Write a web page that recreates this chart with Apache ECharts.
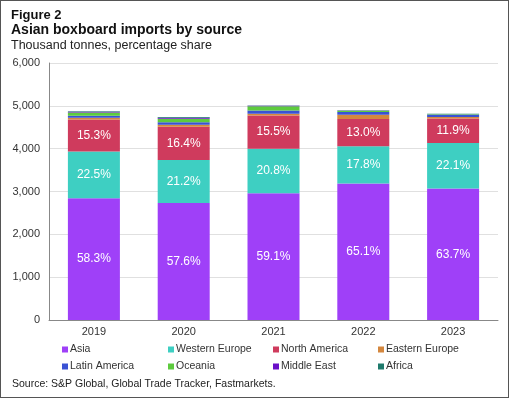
<!DOCTYPE html>
<html>
<head>
<meta charset="utf-8">
<script src="https://cdn.jsdelivr.net/npm/echarts@6/dist/echarts.min.js"></script>
<style>
  html, body { margin: 0; padding: 0; background: #fff; }
  #frame { width: 509px; height: 398px; border: 1px solid #555; box-sizing: border-box; position: absolute; left: 0; top: 0; }
  #DataChart { width: 510px; height: 399px; position: absolute; left: 0; top: 0; }
</style>
</head>
<body>
<div id="DataChart"></div>
<div id="frame"></div>
<script>
// 数据
var years = ['2019', '2020', '2021', '2022', '2023'];
var asia = [2840, 2731, 2958, 3187, 3069];
var westernEurope = [1096, 1005, 1041, 871, 1065];
var northAmerica = [745, 778, 776, 636, 573];
var easternEurope = [38, 45, 40, 95, 30];
var latinAmerica = [52, 60, 75, 65, 60];
var oceania = [75, 80, 100, 30, 10];
var middleEast = [14, 20, 10, 5, 5];
var africa = [12, 22, 5, 6, 6];
var asiaShare = ['58.3%', '57.6%', '59.1%', '65.1%', '63.7%'];
var westernEuropeShare = ['22.5%', '21.2%', '20.8%', '17.8%', '22.1%'];
var northAmericaShare = ['15.3%', '16.4%', '15.5%', '13.0%', '11.9%'];
var yTicks = [0, 1000, 2000, 3000, 4000, 5000, 6000];
var sources = ['Asia', 'Western Europe', 'North America', 'Eastern Europe',
               'Latin America', 'Oceania', 'Middle East', 'Africa'];

var myChart = echarts.init(document.getElementById('DataChart'));

function seg(name, data, color, shares) {
    var s = {
        name: name,
        type: 'bar',
        stack: 'total',
        barWidth: 52,
        data: data,
        itemStyle: { color: color },
        emphasis: { disabled: true }
    };
    if (shares) {
        s.label = {
            show: true,
            position: 'inside',
            color: '#ffffff',
            fontSize: 12,
            fontFamily: 'Liberation Sans',
            formatter: function (p) { return shares[p.dataIndex]; }
        };
    }
    return s;
}

// 图例：每项单独放置，四列两行
var legendCols = [57, 163, 268, 373];
var legendRows = [339, 356];
var legends = sources.map(function (name, i) {
    return {
        data: [name],
        left: legendCols[i % 4],
        top: legendRows[Math.floor(i / 4)],
        icon: 'rect',
        itemWidth: 6,
        itemHeight: 6,
        textStyle: { fontSize: 10.5, color: '#333', fontFamily: 'Liberation Sans', padding: [0, 0, 0, -3] }
    };
});

var option = {
    animation: false,
    textStyle: { fontFamily: 'Liberation Sans' },
    title: [
        { text: 'Figure 2', left: 6, top: 4, textStyle: { fontSize: 13, fontWeight: 'bold', color: '#111' } },
        { text: 'Asian boxboard imports by source', left: 6, top: 18, textStyle: { fontSize: 14, fontWeight: 'bold', color: '#111' } },
        { text: 'Thousand tonnes, percentage share', left: 6, top: 34, textStyle: { fontSize: 12.5, fontWeight: 'normal', color: '#222' } },
        { text: 'Source: S&P Global, Global Trade Tracker, Fastmarkets.', left: 7, top: 374, textStyle: { fontSize: 10.5, fontWeight: 'normal', color: '#222' } }
    ],
    legend: legends,
    grid: { left: 49, right: 12, top: 63, bottom: 79, containLabel: false },
    xAxis: {
        type: 'category',
        data: years,
        axisLine: { lineStyle: { color: '#888', width: 1 } },
        axisTick: { show: false },
        axisLabel: { color: '#333', fontSize: 11, margin: 6 }
    },
    yAxis: {
        type: 'value',
        min: yTicks[0],
        max: yTicks[yTicks.length - 1],
        interval: 1000,
        axisLine: { show: true, lineStyle: { color: '#888', width: 1 } },
        axisTick: { show: false },
        splitLine: { lineStyle: { color: '#e0e0e0' } },
        axisLabel: {
            color: '#333', fontSize: 11, margin: 9,
            formatter: function (v) { return v.toLocaleString('en-US'); }
        }
    },
    series: [
        seg('Asia', asia, '#9f40f8', asiaShare),
        seg('Western Europe', westernEurope, '#3ecfc2', westernEuropeShare),
        seg('North America', northAmerica, '#cf3b5d', northAmericaShare),
        seg('Eastern Europe', easternEurope, '#d4873e'),
        seg('Latin America', latinAmerica, '#3a52d4'),
        seg('Oceania', oceania, '#5dcb3e'),
        seg('Middle East', middleEast, '#6a10c8'),
        seg('Africa', africa, '#1e7a6c')
    ]
};

myChart.setOption(option);
</script>
</body>
</html>
